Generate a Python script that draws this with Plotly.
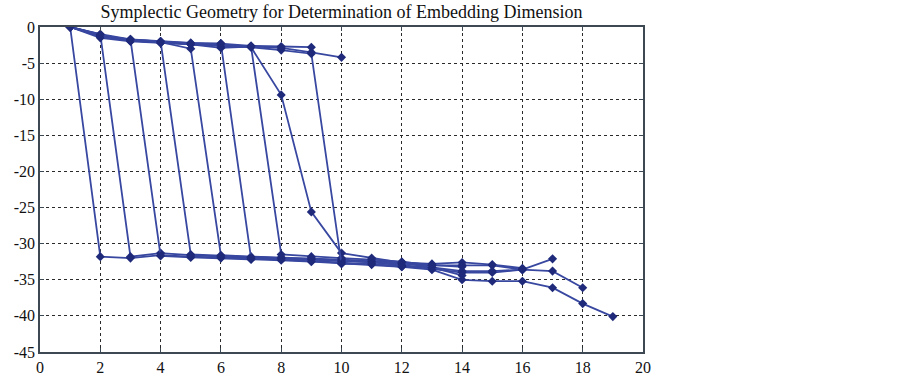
import plotly.graph_objects as go

title_text = "Symplectic Geometry for Determination of Embedding Dimension"

# singular-value spectra (log, normalised), one list per embedding run; x = 1..len
s1 = [0, -31.8, -32.0, -31.6, -31.8, -31.9, -32.1, -32.2, -32.4, -32.6, -32.8, -33.1, -33.5, -34.0, -34.0, -33.6]
s2 = [0, -1.0, -31.8, -31.3, -31.6, -31.8, -32.0, -32.0, -32.2, -32.4, -32.6, -33.0, -33.3, -33.8, -33.8, -33.6, -32.1]
s3 = [0, -1.3, -1.7, -31.7, -31.9, -32.0, -32.2, -32.3, -32.5, -32.7, -32.9, -33.2, -33.6, -35.0, -35.2, -35.2, -36.1, -38.3, -40.1]
s4 = [0, -1.2, -1.8, -2.0, -31.5, -31.7, -31.9, -32.0, -32.1, -32.3, -32.5, -32.8, -33.0, -33.0, -33.0, -33.6, -33.8, -36.1]
s5 = [0, -1.1, -1.9, -2.1, -3.0, -31.6, -31.8, -31.9, -32.0, -32.2, -32.4, -32.6, -32.8, -32.6, -32.9, -33.4]
s6 = [0, -1.2, -1.9, -2.1, -2.3, -2.3, -32.0, -32.1, -32.2, -32.4, -32.5, -32.7, -33.0, -33.2]
s7 = [0, -1.5, -2.0, -2.2, -2.4, -2.9, -2.7, -31.5, -31.8, -32.0, -32.2, -32.5, -33.0]
s8 = [0, -1.3, -1.9, -2.2, -2.4, -2.6, -2.8, -9.4, -25.6, -31.3, -32.0, -32.6, -33.3, -34.4]
s9 = [0, -1.2, -1.8, -2.0, -2.4, -2.6, -2.8, -3.2, -3.7, -32.8, -32.8, -33.2]
s10 = [0, -1.1, -1.8, -2.0, -2.3, -2.4, -2.7, -2.9, -3.5, -4.2]
s11 = [0, -1.0, -1.7, -2.0, -2.2, -2.3, -2.6, -2.7, -2.8]
series = [s1, s2, s3, s4, s5, s6, s7, s8, s9, s10, s11]

x_ticks = [0, 2, 4, 6, 8, 10, 12, 14, 16, 18, 20]
x_labels = ["0", "2", "4", "6", "8", "10", "12", "14", "16", "18", "20"]
y_ticks = [0, -5, -10, -15, -20, -25, -30, -35, -40, -45]
y_labels = ["0", "-5", "-10", "-15", "-20", "-25", "-30", "-35", "-40", "-45"]

LINE = "#3847a0"
MARK = "#1f2a7a"
FONT = "Liberation Serif"

fig = go.Figure()
for s in series:
    fig.add_trace(go.Scatter(
        x=list(range(1, len(s) + 1)), y=s, mode="lines+markers",
        line=dict(color=LINE, width=1.8),
        marker=dict(symbol="diamond", size=7, color=MARK),
        showlegend=False, hoverinfo="skip"))

axis_common = dict(
    showgrid=True, gridcolor="#2a2a2a", griddash="dot", gridwidth=1.2,
    showline=True, linecolor="#3d4852", linewidth=1.5, mirror="ticks",
    ticks="inside", ticklen=4, tickcolor="#3d4852",
    zeroline=False, automargin=False,
    tickfont=dict(family=FONT, size=16, color="#111111"),
)
fig.update_xaxes(range=[0, 20], tickvals=x_ticks, ticktext=x_labels, **axis_common)
fig.update_yaxes(range=[-45, 0], tickvals=y_ticks, ticktext=y_labels, **axis_common)

fig.update_layout(
    width=903, height=377,
    margin=dict(l=40, r=260, t=27, b=25),
    paper_bgcolor="white", plot_bgcolor="white",
    title=dict(text=title_text, x=(40 + 643) / 2 / 903, xanchor="center",
               y=1 - 11.5 / 377, yanchor="middle",
               font=dict(family=FONT, size=18, color="#111111")),
)
fig.write_html("out.html", config={"displayModeBar": False},
               post_script="document.body.style.margin='0';document.body.style.overflow='hidden';")
